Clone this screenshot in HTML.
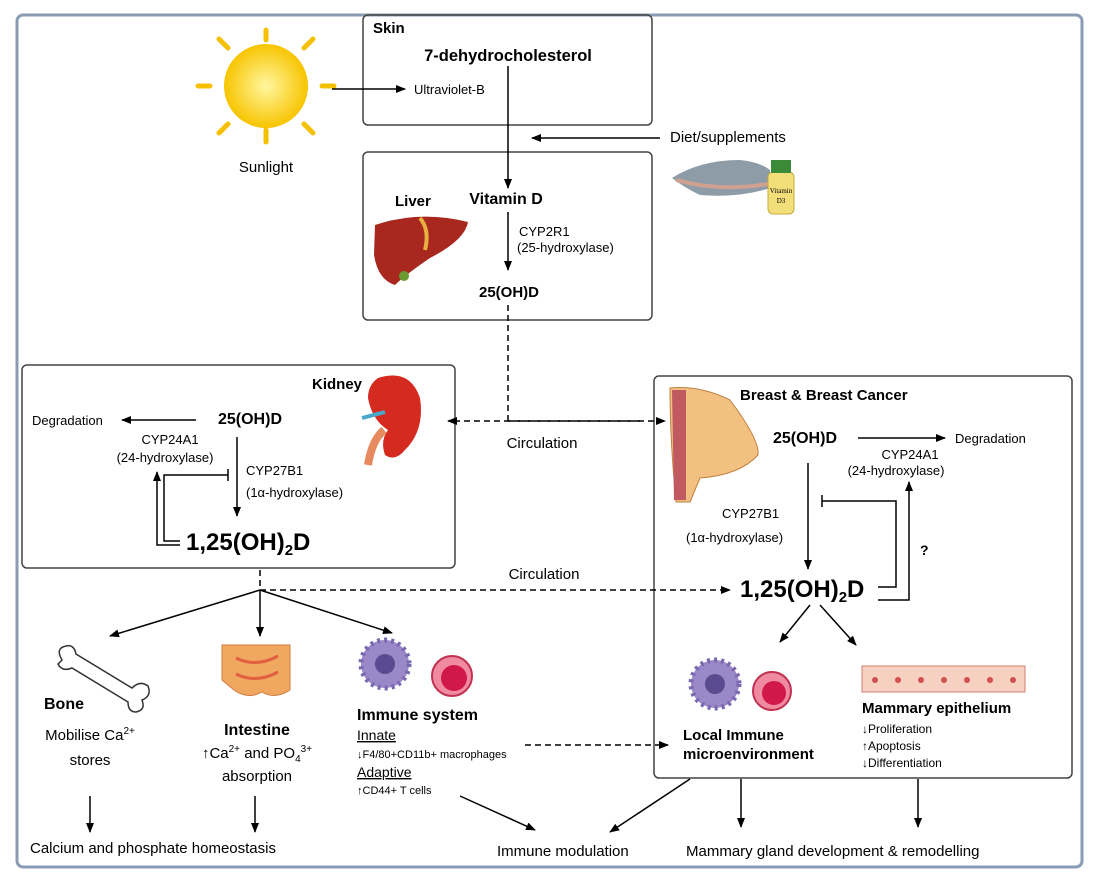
<!DOCTYPE html>
<html><head><meta charset="utf-8"><style>
html,body{margin:0;padding:0;background:#fff}
svg{display:block;font-family:"Liberation Sans",Arial,sans-serif}
</style></head><body>
<svg width="1098" height="883" viewBox="0 0 1098 883" xmlns="http://www.w3.org/2000/svg">
<defs>
<marker id="a" markerWidth="10" markerHeight="8" refX="9" refY="4" orient="auto" markerUnits="userSpaceOnUse"><path d="M0,0 L10,4 L0,8 z" fill="#000"/></marker>
<radialGradient id="sun"><stop offset="0" stop-color="#fff7a0"/><stop offset="1" stop-color="#f7c400"/></radialGradient>
</defs>
<rect x="17" y="15" width="1065" height="852" rx="6" fill="#fff" stroke="#8a9bb5" stroke-width="3"/>
<rect x="363" y="15" width="289" height="110" rx="5" fill="none" stroke="#444" stroke-width="1.5"/>
<rect x="363" y="152" width="289" height="168" rx="5" fill="none" stroke="#444" stroke-width="1.5"/>
<rect x="22" y="365" width="433" height="203" rx="5" fill="none" stroke="#444" stroke-width="1.5"/>
<rect x="654" y="376" width="418" height="402" rx="5" fill="none" stroke="#444" stroke-width="1.5"/>
<g fill="#000" font-size="14">
<g stroke="#f5c000" stroke-width="5" stroke-linecap="round">
<line x1="266" y1="40" x2="266" y2="30"/><line x1="266" y1="130" x2="266" y2="142"/><line x1="210" y1="86" x2="198" y2="86"/><line x1="322" y1="86" x2="334" y2="86"/>
<line x1="228" y1="48" x2="219" y2="39"/><line x1="304" y1="48" x2="313" y2="39"/><line x1="228" y1="124" x2="219" y2="133"/><line x1="304" y1="124" x2="313" y2="133"/>
</g>
<circle cx="266" cy="86" r="42" fill="url(#sun)"/>
<text x="266" y="172" text-anchor="middle" font-size="15">Sunlight</text>
<line x1="332" y1="89" x2="405" y2="89" stroke="#000" stroke-width="1.5" marker-end="url(#a)"/>
<text x="373" y="33" font-weight="bold" font-size="15">Skin</text>
<text x="508" y="61" text-anchor="middle" font-weight="bold" font-size="16.5">7-dehydrocholesterol</text>
<text x="414" y="94" font-size="13">Ultraviolet-B</text>
<line x1="508" y1="66" x2="508" y2="188" stroke="#000" stroke-width="1.5" marker-end="url(#a)"/>
<text x="670" y="142" font-size="15">Diet/supplements</text>
<line x1="660" y1="138" x2="532" y2="138" stroke="#000" stroke-width="1.5" marker-end="url(#a)"/>
<path d="M672 178 Q700 160 740 160 Q760 162 770 170 L770 188 Q740 198 700 195 Q685 188 672 178z" fill="#8e9ca8"/>
<path d="M676 180 Q720 192 768 184" stroke="#d0a090" stroke-width="4" fill="none"/>
<rect x="768" y="172" width="26" height="42" rx="5" fill="#f3df7a" stroke="#c8a840"/>
<rect x="771" y="160" width="20" height="13" fill="#3a8a3a"/>
<text x="781" y="193" text-anchor="middle" font-size="7" font-family="Liberation Serif,serif">Vitamin</text>
<text x="781" y="203" text-anchor="middle" font-size="7" font-family="Liberation Serif,serif">D3</text>
<text x="395" y="206" font-weight="bold" font-size="15">Liver</text>
<path d="M375 225 Q420 210 468 222 Q465 240 430 258 Q405 275 395 285 Q378 280 374 255z" fill="#a8281f"/>
<path d="M420 218 Q430 230 425 250" stroke="#e8b040" stroke-width="4" fill="none"/>
<circle cx="404" cy="276" r="5" fill="#6a9a30"/>
<text x="506" y="204" text-anchor="middle" font-weight="bold" font-size="16">Vitamin D</text>
<line x1="508" y1="212" x2="508" y2="270" stroke="#000" stroke-width="1.5" marker-end="url(#a)"/>
<text x="519" y="236" font-size="13">CYP2R1</text>
<text x="517" y="252" font-size="13">(25-hydroxylase)</text>
<text x="509" y="297" text-anchor="middle" font-weight="bold" font-size="15">25(OH)D</text>
<g stroke="#000" stroke-width="1.5" stroke-dasharray="6,4" fill="none">
<line x1="508" y1="305" x2="508" y2="421"/>
<line x1="640" y1="421" x2="448" y2="421" marker-end="url(#a)"/>
<line x1="508" y1="421" x2="665" y2="421" marker-end="url(#a)"/>
<line x1="260" y1="570" x2="260" y2="590"/>
<line x1="260" y1="590" x2="730" y2="590" marker-end="url(#a)"/>
<line x1="525" y1="745" x2="668" y2="745" marker-end="url(#a)"/>
</g>
<text x="542" y="448" text-anchor="middle" font-size="15">Circulation</text>
<text x="544" y="579" text-anchor="middle" font-size="15">Circulation</text>
<text x="312" y="389" font-weight="bold" font-size="15">Kidney</text>
<path d="M378 378 Q410 368 420 398 Q425 430 405 450 Q395 462 385 455 Q380 440 388 430 Q372 420 368 398 Q368 385 378 378z" fill="#d42a20"/>
<path d="M384 430 Q372 440 368 465" stroke="#e88a60" stroke-width="8" fill="none"/>
<path d="M362 418 L385 412" stroke="#4aa8c8" stroke-width="4"/>
<text x="250" y="424" text-anchor="middle" font-weight="bold" font-size="16">25(OH)D</text>
<line x1="196" y1="420" x2="122" y2="420" stroke="#000" stroke-width="1.5" marker-end="url(#a)"/>
<text x="32" y="425" font-size="13">Degradation</text>
<text x="170" y="444" text-anchor="middle" font-size="13">CYP24A1</text>
<text x="165" y="462" text-anchor="middle" font-size="13">(24-hydroxylase)</text>
<line x1="237" y1="437" x2="237" y2="516" stroke="#000" stroke-width="1.5" marker-end="url(#a)"/>
<text x="246" y="475" font-size="13">CYP27B1</text>
<text x="246" y="497" font-size="13">(1α-hydroxylase)</text>
<path d="M228 475 H164 V541 H180" stroke="#000" stroke-width="1.5" fill="none"/>
<line x1="228" y1="469" x2="228" y2="481" stroke="#000" stroke-width="1.5"/>
<path d="M180 545 H157 V472" stroke="#000" stroke-width="1.5" fill="none" marker-end="url(#a)"/>
<text x="186" y="550" font-weight="bold" font-size="24">1,25(OH)<tspan font-size="15" dy="5">2</tspan><tspan dy="-5">D</tspan></text>
<g stroke="#000" stroke-width="1.5" marker-end="url(#a)">
<line x1="260" y1="590" x2="110" y2="636"/>
<line x1="260" y1="590" x2="260" y2="636"/>
<line x1="260" y1="590" x2="392" y2="633"/>
<line x1="90" y1="796" x2="90" y2="832"/>
<line x1="255" y1="796" x2="255" y2="832"/>
<line x1="460" y1="796" x2="535" y2="830"/>
<line x1="690" y1="779" x2="610" y2="832"/>
<line x1="741" y1="779" x2="741" y2="827"/>
<line x1="918" y1="779" x2="918" y2="827"/>
<line x1="810" y1="605" x2="780" y2="642"/>
<line x1="820" y1="605" x2="856" y2="645"/>
</g>
<path d="M62 660 Q55 648 66 646 Q74 644 76 654 L132 688 Q140 680 148 686 Q152 696 142 700 Q146 710 136 712 Q128 712 128 702 L72 668 Q62 672 58 664z" fill="#fff" stroke="#333" stroke-width="1.5"/>
<text x="44" y="709" font-weight="bold" font-size="16">Bone</text>
<text x="90" y="740" text-anchor="middle" font-size="15">Mobilise Ca<tspan font-size="10" dy="-6">2+</tspan></text>
<text x="90" y="765" text-anchor="middle" font-size="15">stores</text>
<path d="M222 645 H290 V690 Q275 700 262 692 Q248 700 234 690 L222 680z" fill="#f0a860" stroke="#d07a40"/>
<path d="M236 658 Q256 668 278 656 M236 674 Q256 684 278 672" stroke="#e06040" stroke-width="3" fill="none"/>
<text x="257" y="735" text-anchor="middle" font-weight="bold" font-size="16">Intestine</text>
<text x="257" y="758" text-anchor="middle" font-size="15">↑Ca<tspan font-size="10" dy="-6">2+</tspan><tspan dy="6"> and PO</tspan><tspan font-size="10" dy="4">4</tspan><tspan font-size="10" dy="-10">3+</tspan></text>
<text x="257" y="781" text-anchor="middle" font-size="15">absorption</text>
<text x="30" y="853" font-size="15">Calcium and phosphate homeostasis</text>
<circle cx="385" cy="664" r="24" fill="#9a88c8" stroke="#7a68b0" stroke-width="5" stroke-dasharray="3,4"/>
<circle cx="385" cy="664" r="10" fill="#5a4a90"/>
<circle cx="452" cy="676" r="20" fill="#f08aa0" stroke="#c03050" stroke-width="2"/>
<circle cx="454" cy="678" r="13" fill="#d0184a"/>
<text x="357" y="720" font-weight="bold" font-size="16">Immune system</text>
<text x="357" y="740" font-size="14" text-decoration="underline">Innate</text>
<text x="357" y="758" font-size="11">↓F4/80+CD11b+ macrophages</text>
<text x="357" y="777" font-size="14" text-decoration="underline">Adaptive</text>
<text x="357" y="794" font-size="11">↑CD44+ T cells</text>
<text x="497" y="856" font-size="15">Immune modulation</text>
<text x="686" y="856" font-size="15">Mammary gland development &amp; remodelling</text>
<text x="740" y="400" font-weight="bold" font-size="15">Breast &amp; Breast Cancer</text>
<path d="M670 388 Q700 385 730 400 Q760 440 758 455 Q740 475 700 478 L690 502 L676 502 Q670 440 670 388z" fill="#f2c080" stroke="#c08040"/>
<path d="M672 390 L686 390 L686 500 L674 500z" fill="#c05a60"/>
<text x="805" y="443" text-anchor="middle" font-weight="bold" font-size="16">25(OH)D</text>
<line x1="858" y1="438" x2="945" y2="438" stroke="#000" stroke-width="1.5" marker-end="url(#a)"/>
<text x="955" y="443" font-size="13">Degradation</text>
<text x="910" y="459" text-anchor="middle" font-size="13">CYP24A1</text>
<text x="896" y="475" text-anchor="middle" font-size="13">(24-hydroxylase)</text>
<line x1="808" y1="463" x2="808" y2="569" stroke="#000" stroke-width="1.5" marker-end="url(#a)"/>
<text x="722" y="518" font-size="13">CYP27B1</text>
<text x="686" y="542" font-size="13">(1α-hydroxylase)</text>
<path d="M878 587 H896 V501 H822" stroke="#000" stroke-width="1.5" fill="none"/>
<line x1="822" y1="495" x2="822" y2="507" stroke="#000" stroke-width="1.5"/>
<path d="M878 600 H909 V482" stroke="#000" stroke-width="1.5" fill="none" marker-end="url(#a)"/>
<text x="920" y="555" font-weight="bold" font-size="14">?</text>
<text x="740" y="597" font-weight="bold" font-size="24">1,25(OH)<tspan font-size="15" dy="5">2</tspan><tspan dy="-5">D</tspan></text>
<circle cx="715" cy="684" r="24" fill="#9a88c8" stroke="#7a68b0" stroke-width="5" stroke-dasharray="3,4"/>
<circle cx="715" cy="684" r="10" fill="#5a4a90"/>
<circle cx="772" cy="691" r="19" fill="#f08aa0" stroke="#c03050" stroke-width="2"/>
<circle cx="774" cy="693" r="12" fill="#d0184a"/>
<text x="683" y="740" font-weight="bold" font-size="15">Local Immune</text>
<text x="683" y="759" font-weight="bold" font-size="15">microenvironment</text>
<rect x="862" y="666" width="163" height="26" fill="#f6d0c0" stroke="#d08070"/>
<g fill="#d05050"><circle cx="875" cy="680" r="3"/><circle cx="898" cy="680" r="3"/><circle cx="921" cy="680" r="3"/><circle cx="944" cy="680" r="3"/><circle cx="967" cy="680" r="3"/><circle cx="990" cy="680" r="3"/><circle cx="1013" cy="680" r="3"/></g>
<text x="862" y="713" font-weight="bold" font-size="15">Mammary epithelium</text>
<text x="862" y="733" font-size="12">↓Proliferation</text>
<text x="862" y="750" font-size="12">↑Apoptosis</text>
<text x="862" y="767" font-size="12">↓Differentiation</text>
</g>
</svg>
</body></html>
